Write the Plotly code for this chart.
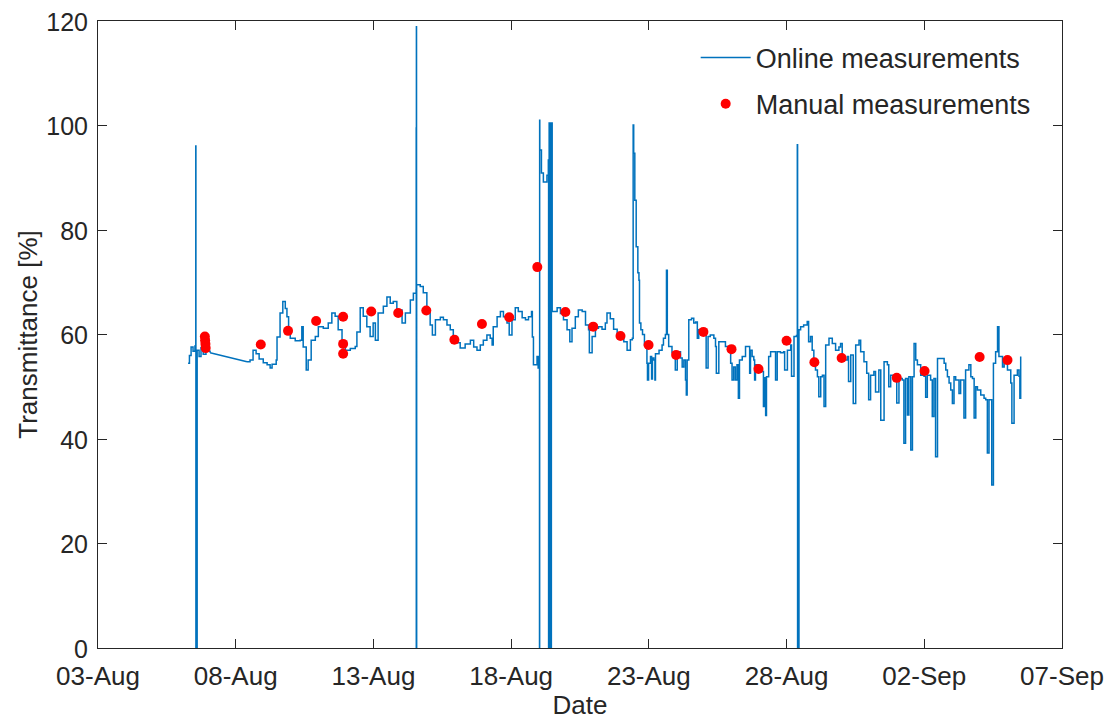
import pandas as pd
import plotly.graph_objects as go

BASE = pd.Timestamp("2018-08-03")

# Online measurements: days since 03-Aug, transmittance [%]
online_day = [
    3.27, 3.32, 3.38, 3.45, 3.52, 3.55, 3.555, 3.60, 3.67, 3.74, 3.82, 3.92, 4.07,
    5.41, 5.52, 5.63, 5.74, 5.85, 6.00, 6.14, 6.25, 6.32, 6.47, 6.50, 6.61, 6.71, 6.80, 6.86,
    6.92, 6.98, 7.16, 7.34, 7.40, 7.45, 7.56, 7.63, 7.74, 7.89, 8.00, 8.18, 8.36,
    8.49, 8.61, 8.72, 8.86, 8.98, 9.16, 9.34, 9.40, 9.52, 9.63, 9.76, 9.88, 9.99, 10.07,
    10.17, 10.36, 10.49, 10.61, 10.72, 10.85, 11.04, 11.16, 11.34, 11.45, 11.55, 11.553,
    11.556, 11.56, 11.565, 11.57, 11.70, 11.81, 11.94, 12.06, 12.14, 12.25, 12.43, 12.54,
    12.67, 12.79, 12.90, 13.03, 13.15, 13.33, 13.52,
    13.64, 13.76, 13.88, 13.99, 14.12, 14.24, 14.31, 14.35, 14.49, 14.61, 14.72, 14.85,
    14.93, 15.03, 15.15, 15.26, 15.40, 15.52, 15.63, 15.74, 15.77, 15.81, 15.94, 15.98,
    16.03, 16.035, 16.04, 16.10, 16.17, 16.30, 16.35, 16.36, 16.38, 16.40, 16.42, 16.44,
    16.46, 16.49, 16.54, 16.67, 16.79, 16.90, 17.03, 17.13, 17.21, 17.33, 17.44, 17.58,
    17.70, 17.81, 17.84, 17.94, 18.06, 18.17, 18.30, 18.42, 18.48, 18.60, 18.72, 18.85,
    18.97, 19.09, 19.21, 19.33, 19.40, 19.43, 19.45, 19.49, 19.54, 19.60, 19.64, 19.66,
    19.71, 19.77, 19.84, 19.93, 19.95, 19.99, 20.06, 20.10, 20.13, 20.18, 20.22, 20.24,
    20.37, 20.48, 20.53, 20.60, 20.64, 20.67, 20.72, 20.84, 20.94, 20.96, 21.03, 21.15,
    21.21, 21.27, 21.33, 21.36, 21.39, 21.45, 21.55, 21.63, 21.70, 21.76, 21.81, 21.94,
    21.99, 22.05, 22.08, 22.15, 22.23, 22.36, 22.42, 22.45, 22.54, 22.66, 22.78, 22.90,
    22.97, 23.02, 23.08, 23.14, 23.20, 23.25, 23.29, 23.39, 23.51, 23.63, 23.66, 23.69,
    23.75, 23.81, 23.84, 23.87, 23.99, 24.12,
    24.16, 24.20, 24.24, 24.27, 24.35, 24.42, 24.53, 24.60, 24.66, 24.78, 24.89, 24.93,
    25.03, 25.15, 25.18, 25.27, 25.36, 25.39, 25.40, 25.45, 25.51, 25.62, 25.75, 25.80,
    25.87, 25.93, 25.99, 26.05, 26.12, 26.17, 26.24, 26.30, 26.36, 26.42, 26.54, 26.66,
    26.78, 26.90, 26.96, 27.02, 27.08, 27.21, 27.25, 27.33, 27.42, 27.51, 27.63, 27.69,
    27.81, 27.91, 27.98, 28.05, 28.17, 28.23, 28.35, 28.42, 28.54, 28.66, 28.71, 28.78,
    28.90, 29.00, 29.08, 29.20, 29.26, 29.32, 29.39, 29.44, 29.51, 29.57, 29.63, 29.69,
    29.75, 29.87, 29.99, 30.05, 30.11, 30.23, 30.29, 30.35, 30.41, 30.48, 30.60, 30.72,
    30.78, 30.84, 30.90, 30.96, 31.02, 31.08, 31.14, 31.26, 31.32, 31.44, 31.50, 31.62,
    31.69, 31.75, 31.81, 31.87, 31.93, 32.05, 32.17, 32.23, 32.29, 32.35, 32.45, 32.51,
    32.59, 32.66, 32.71, 32.84, 32.90, 33.02, 33.14, 33.18, 33.26, 33.38, 33.44, 33.47,
    33.50,
]
online_val = [
    54.5, 56.0, 57.6, 56.8, 57.8, 96.1, 0.0, 57.0, 55.8, 57.5, 56.2, 56.8, 56.5,
    54.8, 55.1, 57.0, 56.3, 55.3, 54.6, 54.2, 53.6, 54.3, 55.1, 59.5, 64.1, 66.3, 65.0, 63.4,
    60.9, 59.3, 58.8, 58.9, 61.5, 57.6, 53.2, 55.1, 58.9, 59.6, 61.5, 61.2, 62.2,
    64.1, 63.5, 60.9, 58.6, 57.0, 57.3, 57.7, 60.5, 65.1, 63.5, 61.5, 59.6, 62.2, 58.9,
    64.1, 65.4, 67.2, 66.0, 66.3, 64.7, 62.2, 64.1, 66.6, 67.9, 68.5, 99.5,
    0.0, 118.9, 0.0, 69.5, 69.2, 68.0, 64.7, 61.8, 59.9, 62.8, 63.3, 62.8,
    61.8, 60.9, 59.6, 58.4, 57.4, 58.2, 58.9,
    57.6, 57.0, 58.0, 58.9, 59.9, 59.3, 58.0, 61.5, 63.4, 64.4, 63.4, 62.2,
    59.9, 62.8, 65.1, 64.4, 63.2, 62.8, 63.4, 64.4, 59.5, 54.2, 55.8, 53.6,
    0.0, 101.0, 95.3, 90.9, 89.2, 90.5, 93.4, 0.0, 100.5, 0.0, 100.5, 0.0,
    100.5, 64.4, 64.4, 65.1, 64.0, 62.8, 60.9, 58.6, 61.2, 63.4, 64.7, 64.4,
    61.8, 60.9, 56.5, 59.6, 61.2, 61.5, 61.0, 62.2, 64.1, 63.0, 61.0, 59.9,
    59.3, 58.6, 57.0, 59.0, 59.3, 100.1, 94.7, 85.7, 76.8, 71.8, 70.4, 62.2,
    60.9, 60.0, 58.0, 54.5, 51.3, 54.5, 55.8, 51.5, 55.5, 55.1, 51.3, 56.3,
    57.0, 58.0, 59.3, 60.0, 72.3, 60.0, 57.7, 56.5, 55.8, 53.2, 56.7, 55.5,
    53.8, 55.1, 51.3, 48.4, 55.1, 62.8, 63.1, 62.2, 62.4, 59.3, 60.9, 60.6,
    60.3, 60.3, 53.6, 59.6, 59.9, 59.3, 57.7, 52.6, 58.6, 58.6, 57.7, 57.0,
    54.5, 51.3, 53.8, 51.3, 54.2, 47.8, 55.1, 55.8, 57.7, 57.7, 52.6, 57.0,
    55.8, 55.1, 51.3, 54.2, 53.2, 52.9,
    46.2, 51.7, 44.5, 51.9, 55.8, 56.7, 56.7, 51.3, 56.7, 56.5, 56.7, 53.2,
    57.0, 58.0, 52.0, 59.6, 59.8, 96.3, 0.0, 60.9, 61.5, 61.8, 62.5, 58.6,
    59.6, 57.0, 54.8, 53.2, 51.9, 48.1, 51.9, 52.2, 46.2, 58.0, 59.3, 58.3,
    57.0, 57.6, 58.3, 55.8, 55.1, 55.8, 51.0, 56.1, 46.8, 58.0, 58.9, 56.7,
    54.8, 52.6, 47.5, 52.2, 52.9, 49.0, 53.2, 43.6, 54.8, 54.2, 50.0, 52.2,
    51.6, 46.9, 51.6, 51.3, 39.2, 51.6, 44.6, 51.9, 37.9, 51.9, 58.3, 55.1,
    54.2, 52.2, 52.0, 48.0, 52.2, 51.3, 44.3, 51.6, 36.6, 55.4, 55.4, 54.5,
    53.2, 51.9, 50.7, 49.4, 46.8, 51.9, 51.3, 48.7, 51.3, 44.0, 53.2, 54.2,
    51.9, 51.6, 44.0, 50.0, 49.4, 48.4, 47.8, 47.5, 37.3, 47.5, 31.2, 54.5,
    56.7, 61.5, 55.8, 53.8, 55.1, 53.2, 50.7, 43.0, 52.2, 53.2, 52.0, 47.8,
    55.8,
]

# Manual measurements
manual_day = [3.88, 3.89, 3.90, 3.91, 5.91, 6.90, 7.92, 8.90, 8.90, 8.90, 9.92, 10.90,
              11.92, 12.94, 13.94, 14.93, 15.95, 16.97, 17.98, 18.97, 19.99, 20.99,
              21.98, 23.00, 23.98, 25.00, 26.01, 27.00, 29.00, 30.01, 32.01, 33.02]
manual_val = [59.6, 58.9, 58.2, 57.4, 58.1, 60.7, 62.6, 63.4, 58.2, 56.3, 64.4, 64.1,
              64.6, 59.0, 62.0, 63.3, 72.9, 64.3, 61.5, 59.7, 58.0, 56.1,
              60.5, 57.2, 53.4, 58.8, 54.7, 55.5, 51.7, 53.0, 55.7, 55.1]

tick_days = [0, 5, 10, 15, 20, 25, 30, 35]
y_ticks = [0, 20, 40, 60, 80, 100, 120]

t_online = [BASE + pd.Timedelta(days=d) for d in online_day]
t_manual = [BASE + pd.Timedelta(days=d) for d in manual_day]
t_ticks = [BASE + pd.Timedelta(days=d) for d in tick_days]

# split at the data gap (straight connector drawn across it)
gap = next(i for i in range(1, len(online_day)) if online_day[i] - online_day[i - 1] > 1.0)

AX = "#262626"
BLUE = "#0072BD"
FONT = "Liberation Sans, Arial, Helvetica, sans-serif"
FS = 26

fig = go.Figure()
fig.add_trace(go.Scatter(
    x=t_online[:gap], y=online_val[:gap], mode="lines", line_shape="hv",
    line=dict(color=BLUE, width=1.5), showlegend=False, legendgroup="a",
))
fig.add_trace(go.Scatter(
    x=t_online[gap - 1:gap + 1], y=online_val[gap - 1:gap + 1], mode="lines",
    line=dict(color=BLUE, width=1.5), showlegend=False, legendgroup="a",
))
fig.add_trace(go.Scatter(
    x=t_online[gap:], y=online_val[gap:], mode="lines", line_shape="hv",
    name="Online measurements", line=dict(color=BLUE, width=1.5), legendgroup="a",
))
fig.add_trace(go.Scatter(
    x=t_manual, y=manual_val, mode="markers", name="Manual measurements",
    marker=dict(color="#FF0000", size=10, line=dict(width=0)), legendgroup="b",
))

axis_common = dict(
    showline=True, linecolor=AX, linewidth=1, mirror="ticks",
    ticks="inside", ticklen=9, tickwidth=1, tickcolor=AX,
    showgrid=False, zeroline=False, automargin=False,
)

fig.update_xaxes(
    range=[t_ticks[0], t_ticks[-1]], tickvals=t_ticks, tickformat="%d-%b",
    ticklabelstandoff=5,
    tickfont=dict(family=FONT, size=FS, color=AX),
    title=dict(text="Date", font=dict(family=FONT, size=FS, color=AX), standoff=8),
    **axis_common,
)
fig.update_yaxes(
    range=[0, 120], tickvals=y_ticks, ticklabelstandoff=4, ticklabelshift=1,
    tickfont=dict(family=FONT, size=25, color=AX),
    title=dict(text="Transmittance [%]", font=dict(family=FONT, size=FS, color=AX), standoff=1),
    **axis_common,
)

fig.update_layout(
    width=1110, height=720,
    margin=dict(l=98, r=48, t=21, b=72),
    plot_bgcolor="white", paper_bgcolor="white",
    font=dict(family=FONT, size=FS, color=AX),
    legend=dict(
        x=0.62, y=0.98, xanchor="left", yanchor="top",
        bgcolor="rgba(0,0,0,0)", borderwidth=0, itemwidth=50,
        font=dict(family=FONT, size=27, color=AX),
        tracegroupgap=8, traceorder="grouped",
    ),
    showlegend=True,
)

fig.write_html("out.html")
